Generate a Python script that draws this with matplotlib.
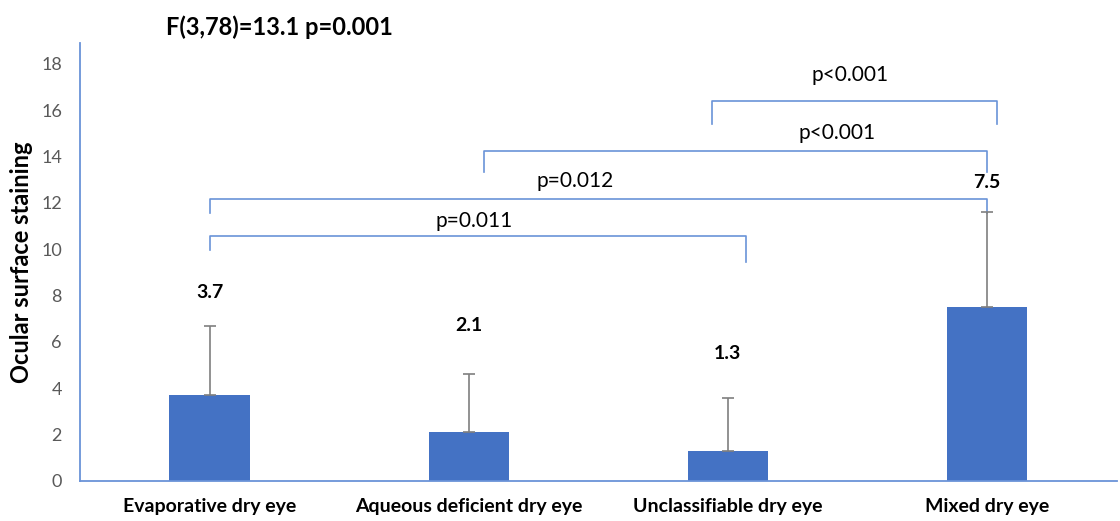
import matplotlib.pyplot as plt

plt.rcParams['font.family'] = ['Lato', 'DejaVu Sans']

groups = ["Evaporative dry eye", "Aqueous deficient dry eye",
          "Unclassifiable dry eye", "Mixed dry eye"]
means = [3.7, 2.1, 1.3, 7.5]
sd_up = [3.0, 2.5, 2.3, 4.1]
label_y = [8.15, 6.7, 5.5, 12.9]

# comparisons: (left x, right x, bar height, left drop, right drop, text x, text y, text)
pairs = [
    (0.0, 2.07, 10.55, 9.95, 9.45, 1.02, 11.2, "p=0.011"),
    (0.0, 3.0, 12.15, 11.55, 11.55, 1.41, 12.95, "p=0.012"),
    (1.06, 3.0, 14.25, 13.35, 13.35, 2.42, 15.0, "p<0.001"),
    (1.94, 3.04, 16.4, 15.4, 15.4, 2.47, 17.5, "p<0.001"),
]

blue = "#4472C4"
line_blue = "#6A93D8"

fig = plt.figure(figsize=(11.2, 5.21), dpi=100)
ax = fig.add_axes([0.0714, 0.0768, 0.9256, 0.8407])

x = range(len(groups))
ax.bar(x, means, width=0.31, color=blue, zorder=2)
ax.errorbar(x, means, yerr=[[0] * 4, sd_up], fmt="none", ecolor="#7F7F7F",
            elinewidth=1.2, capsize=4, capthick=1.2, zorder=3)

for i, m in enumerate(means):
    ax.text(i, label_y[i], str(m), ha="center", va="center",
            fontsize=14, fontweight="bold")

for x0, x1, h, d0, d1, tx, ty, t in pairs:
    ax.plot([x0, x0, x1, x1], [d0, h, h, d1], color=line_blue, lw=1.2)
    ax.text(tx, ty, t, ha="center", va="center", fontsize=15)

ax.set_xlim(-0.5, 3.5)
ax.set_ylim(0, 18.9)
ax.set_yticks(range(0, 19, 2))
ax.set_xticks(list(x))
ax.set_xticklabels(groups, fontsize=14, fontweight="bold")
ax.tick_params(axis="y", length=0, pad=13, labelsize=13, labelcolor="#595959")
ax.tick_params(axis="x", length=0, pad=12)
for s in ["top", "right"]:
    ax.spines[s].set_visible(False)
for s in ["left", "bottom"]:
    ax.spines[s].set_color(line_blue)
    ax.spines[s].set_linewidth(1.3)

ax.set_ylabel("Ocular surface staining", fontsize=17, fontweight="bold", labelpad=6)
fig.text(0.2496, 0.948, "F(3,78)=13.1 p=0.001", ha="center", va="center",
         fontsize=17, fontweight="bold")

fig.savefig("out.png", dpi=100)
